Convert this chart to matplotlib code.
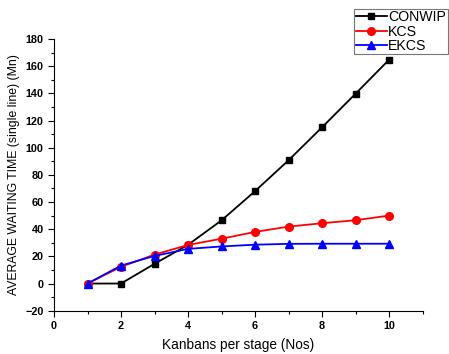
import numpy as np
import matplotlib
matplotlib.use('Agg')
import matplotlib.pyplot as plt
from matplotlib.ticker import MultipleLocator

plt.rcParams['font.family'] = ['Liberation Sans', 'DejaVu Sans']

kanbans = [1, 2, 3, 4, 5, 6, 7, 8, 9, 10]
conwip = [0, 0, 14.5, 28.5, 46.5, 68, 90.7, 115, 139.7, 164.7]
kcs = [0, 12.3, 21.3, 28.4, 33, 38, 41.9, 44.4, 46.6, 50]
ekcs = [0, 13.2, 20.3, 25.5, 27.3, 28.6, 29.2, 29.3, 29.3, 29.3]

fig = plt.figure(figsize=(4.49, 3.54), dpi=100)
ax = fig.add_axes([0.1203, 0.1223, 0.8207, 0.7675])

l1, = ax.plot(kanbans, conwip, color='k', marker='s', markersize=5, linewidth=1.3, label='CONWIP')
l2, = ax.plot(kanbans, kcs, color='#ff0000', marker='o', markersize=5.5, linewidth=1.3, label='KCS')
l3, = ax.plot(kanbans, ekcs, color='#0000ff', marker='^', markersize=6, linewidth=1.3, label='EKCS')

ax.set_xlim(0, 11)
ax.set_ylim(-20, 180)
ax.xaxis.set_minor_locator(MultipleLocator(1))
ax.yaxis.set_minor_locator(MultipleLocator(10))
ax.set_xticks([0, 2, 4, 6, 8, 10])
ax.set_yticks(np.arange(-20, 181, 20))

ax.spines['top'].set_visible(False)
ax.spines['right'].set_visible(False)
ax.tick_params(which='major', direction='out', length=4, width=0.8, labelsize=7.8)
ax.tick_params(which='minor', direction='out', length=2.5, width=0.8)
for lab in ax.get_xticklabels() + ax.get_yticklabels():
    lab.set_fontweight('bold')

ax.set_xlabel('Kanbans per stage (Nos)', fontsize=9.8, labelpad=5)
ax.set_ylabel('AVERAGE WAITING TIME (single line) (Mn)', fontsize=8.8, labelpad=4)

leg = fig.legend(handles=[l1, l2, l3], loc='upper left', bbox_to_anchor=(0.789, 0.975),
                 fontsize=10.2, frameon=True, fancybox=False, edgecolor='#555555',
                 handlelength=2.2, handletextpad=0.1, borderpad=0.1, labelspacing=0.02,
                 borderaxespad=0)
leg.get_frame().set_linewidth(0.8)

fig.savefig('out.png', dpi=100)
